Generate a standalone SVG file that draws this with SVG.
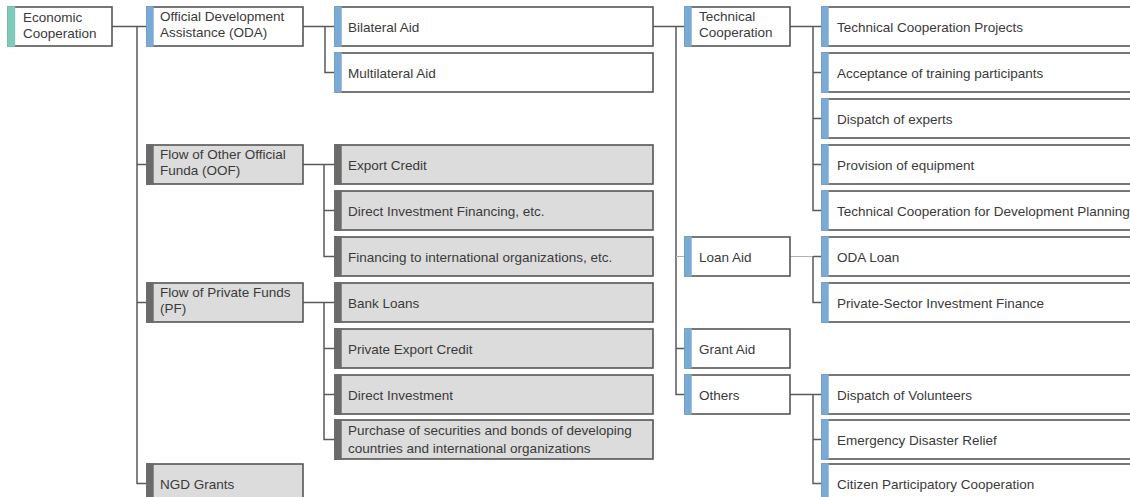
<svg xmlns="http://www.w3.org/2000/svg" width="1130" height="497" viewBox="0 0 1130 497">
<style>
.box{fill:#fff;stroke:#555;stroke-width:1.6}
.gbox{fill:#dcdcdc;stroke:#555;stroke-width:1.6}
.ab{fill:#7aaad6}
.at{fill:#7fcbbb}
.ag{fill:#6a6a6a}
text{font-family:"Liberation Sans",Arial,Helvetica,sans-serif;font-size:13.5px;fill:#3a3a3a}
.conn{stroke:#5a5a5a;stroke-width:1.5;fill:none}
.thin{stroke:#b0b0b0;stroke-width:1;fill:none}
</style>
<rect width="1130" height="497" fill="#fff"/>
<g id="connectors">
<path class="conn" d="M112 26.5H147M137 26.5V483.5H147M137 164.5H147M137 302.5H147"/>
<path class="conn" d="M303 26.5H335M325 26.5V72.5H335"/>
<path class="conn" d="M303 164.5H335M324 164.5V256.5H335M324 210.5H335"/>
<path class="conn" d="M303 302.5H335M324 302.5V439.5H335M324 348.5H335M324 394.5H335"/>
<path class="conn" d="M653 26.5H685M676 26.5V394.5H685M676 348.5H685"/>
<path class="thin" d="M676 256.5H685"/>
<path class="conn" d="M790 26.5H822M813 26.5V210.5H822M813 72.5H822M813 118.5H822M813 164.5H822"/>
<path class="thin" d="M790 256.5H813"/>
<path class="conn" d="M813 256.5V302.5H822M813 256.5H822"/>
<path class="conn" d="M790 394.5H822M813 394.5V483.5H822M813 439.5H822"/>
</g>
<g id="n-ec"><rect class="box" x="8" y="7" width="104" height="39"/><rect class="at" x="7.2" y="6.2" width="8" height="40.6"/><text x="23" y="21.5">Economic</text><text x="23" y="37.5">Cooperation</text></g>
<g id="n-oda"><rect class="box" x="147" y="7" width="156" height="39"/><rect class="ab" x="146.2" y="6.2" width="7.5" height="40.6"/><text x="160" y="21">Official Development</text><text x="160" y="37">Assistance (ODA)</text></g>
<g id="n-oof"><rect class="gbox" x="147" y="145" width="156" height="39"/><rect class="ag" x="146.2" y="144.2" width="7.5" height="40.6"/><text x="160" y="159">Flow of Other Official</text><text x="160" y="175">Funda (OOF)</text></g>
<g id="n-pf"><rect class="gbox" x="147" y="283" width="156" height="39"/><rect class="ag" x="146.2" y="282.2" width="7.5" height="40.6"/><text x="160" y="297">Flow of Private Funds</text><text x="160" y="313">(PF)</text></g>
<g id="n-ngd"><rect class="gbox" x="147" y="464" width="156" height="39"/><rect class="ag" x="146.2" y="463.2" width="7.5" height="40.6"/><text x="160" y="488.5">NGD Grants</text></g>
<g id="n-bil"><rect class="box" x="335" y="7" width="318" height="39"/><rect class="ab" x="334.2" y="6.2" width="7.5" height="40.6"/><text x="348" y="31.5">Bilateral Aid</text></g>
<g id="n-mul"><rect class="box" x="335" y="53" width="318" height="39"/><rect class="ab" x="334.2" y="52.2" width="7.5" height="40.6"/><text x="348" y="77.5">Multilateral Aid</text></g>
<g id="n-exp"><rect class="gbox" x="335" y="145" width="318" height="39"/><rect class="ag" x="334.2" y="144.2" width="7.5" height="40.6"/><text x="348" y="169.5">Export Credit</text></g>
<g id="n-dif"><rect class="gbox" x="335" y="191" width="318" height="39"/><rect class="ag" x="334.2" y="190.2" width="7.5" height="40.6"/><text x="348" y="215.5">Direct Investment Financing, etc.</text></g>
<g id="n-fio"><rect class="gbox" x="335" y="237" width="318" height="39"/><rect class="ag" x="334.2" y="236.2" width="7.5" height="40.6"/><text x="348" y="261.5">Financing to international organizations, etc.</text></g>
<g id="n-bank"><rect class="gbox" x="335" y="283" width="318" height="39"/><rect class="ag" x="334.2" y="282.2" width="7.5" height="40.6"/><text x="348" y="307.5">Bank Loans</text></g>
<g id="n-pec"><rect class="gbox" x="335" y="329" width="318" height="39"/><rect class="ag" x="334.2" y="328.2" width="7.5" height="40.6"/><text x="348" y="353.5">Private Export Credit</text></g>
<g id="n-di"><rect class="gbox" x="335" y="375" width="318" height="39"/><rect class="ag" x="334.2" y="374.2" width="7.5" height="40.6"/><text x="348" y="399.5">Direct Investment</text></g>
<g id="n-pur"><rect class="gbox" x="335" y="420" width="318" height="39"/><rect class="ag" x="334.2" y="419.2" width="7.5" height="40.6"/><text x="348" y="435">Purchase of securities and bonds of developing</text><text x="348" y="452.5">countries and international organizations</text></g>
<g id="n-tc"><rect class="box" x="685" y="7" width="105" height="39"/><rect class="ab" x="684.2" y="6.2" width="7.5" height="40.6"/><text x="699" y="21">Technical</text><text x="699" y="37">Cooperation</text></g>
<g id="n-loan"><rect class="box" x="685" y="237" width="105" height="39"/><rect class="ab" x="684.2" y="236.2" width="7.5" height="40.6"/><text x="699" y="261.5">Loan Aid</text></g>
<g id="n-grant"><rect class="box" x="685" y="329" width="105" height="39"/><rect class="ab" x="684.2" y="328.2" width="7.5" height="40.6"/><text x="699" y="353.5">Grant Aid</text></g>
<g id="n-oth"><rect class="box" x="685" y="375" width="105" height="39"/><rect class="ab" x="684.2" y="374.2" width="7.5" height="40.6"/><text x="699" y="399.5">Others</text></g>
<g id="n-tcp"><rect class="box" x="822" y="7" width="330" height="39"/><rect class="ab" x="821.2" y="6.2" width="7.5" height="40.6"/><text x="837" y="31.5">Technical Cooperation Projects</text></g>
<g id="n-acc"><rect class="box" x="822" y="53" width="330" height="39"/><rect class="ab" x="821.2" y="52.2" width="7.5" height="40.6"/><text x="837" y="77.5">Acceptance of training participants</text></g>
<g id="n-dex"><rect class="box" x="822" y="99" width="330" height="39"/><rect class="ab" x="821.2" y="98.2" width="7.5" height="40.6"/><text x="837" y="123.5">Dispatch of experts</text></g>
<g id="n-prov"><rect class="box" x="822" y="145" width="330" height="39"/><rect class="ab" x="821.2" y="144.2" width="7.5" height="40.6"/><text x="837" y="169.5">Provision of equipment</text></g>
<g id="n-tcdp"><rect class="box" x="822" y="191" width="330" height="39"/><rect class="ab" x="821.2" y="190.2" width="7.5" height="40.6"/><text x="837" y="215.5">Technical Cooperation for Development Planning</text></g>
<g id="n-odal"><rect class="box" x="822" y="237" width="330" height="39"/><rect class="ab" x="821.2" y="236.2" width="7.5" height="40.6"/><text x="837" y="261.5">ODA Loan</text></g>
<g id="n-psif"><rect class="box" x="822" y="283" width="330" height="39"/><rect class="ab" x="821.2" y="282.2" width="7.5" height="40.6"/><text x="837" y="307.5">Private-Sector Investment Finance</text></g>
<g id="n-dov"><rect class="box" x="822" y="375" width="330" height="39"/><rect class="ab" x="821.2" y="374.2" width="7.5" height="40.6"/><text x="837" y="399.5">Dispatch of Volunteers</text></g>
<g id="n-edr"><rect class="box" x="822" y="420" width="330" height="39"/><rect class="ab" x="821.2" y="419.2" width="7.5" height="40.6"/><text x="837" y="444.5">Emergency Disaster Relief</text></g>
<g id="n-cpc"><rect class="box" x="822" y="464" width="330" height="39"/><rect class="ab" x="821.2" y="463.2" width="7.5" height="40.6"/><text x="837" y="488.5">Citizen Participatory Cooperation</text></g>
</svg>
